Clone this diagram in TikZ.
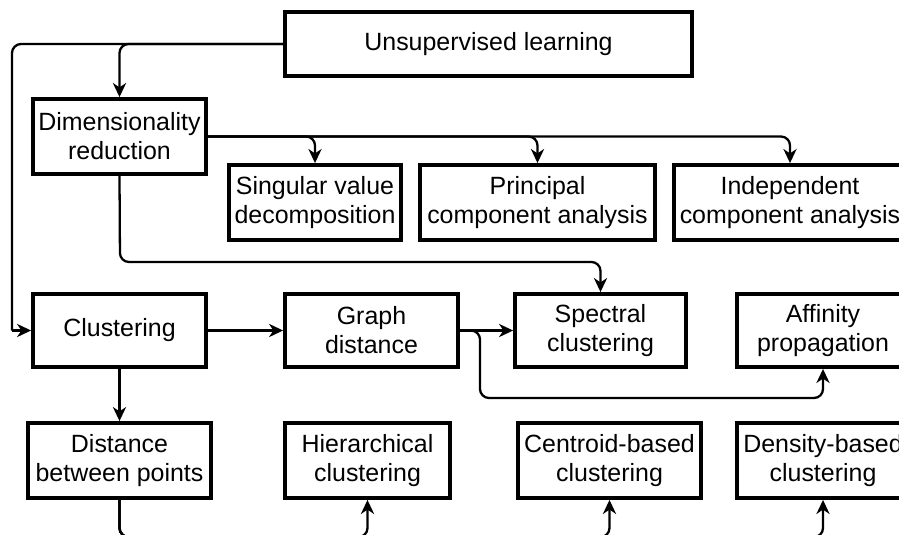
\documentclass[tikz,border=0pt]{standalone}
\usepackage{fontspec}
\setmainfont{Liberation Sans}
\usetikzlibrary{positioning,arrows.meta}

\begin{document}
\begin{tikzpicture}[x=0.02cm, y=-0.02cm,
  every node/.style={font=\fontsize{14.2}{16.5}\selectfont},
  box/.style={draw, line width=2.2pt, align=center, inner sep=0pt, minimum height=1.5cm},
  conn/.style={line width=1.3pt, rounded corners=0.18cm, -{Stealth[length=8pt, width=7.5pt, inset=2.5pt]}},
  link/.style={line width=1.3pt, rounded corners=0.18cm}]
\clip (0,0) rectangle (899,534);

% Root
\node[box, minimum width=8.14cm, minimum height=1.28cm] (UL) at (488.5,44) {Unsupervised learning};

% Dimensionality reduction branch
\node[box, minimum width=3.46cm] (DR) at (119.5,136.5) {Dimensionality\\reduction};
\node[box, minimum width=3.44cm] (SVD) at (315,202.5) {Singular value\\decomposition};
\node[box, minimum width=4.7cm] (PCA) at (537.5,202.5) {Principal\\component analysis};
\node[box, minimum width=4.64cm] (ICA) at (790,202.5) {Independent\\component analysis};

% Clustering branch
\node[box, minimum width=3.46cm, minimum height=1.46cm] (CL) at (119.5,330.5) {Clustering};
\node[box, minimum width=3.46cm, minimum height=1.46cm] (GD) at (371.5,330.5) {Graph\\distance};
\node[box, minimum width=3.42cm, minimum height=1.46cm] (SC) at (600.5,330.5) {Spectral\\clustering};
\node[box, minimum width=3.44cm, minimum height=1.46cm] (AP) at (823,330.5) {Affinity\\propagation};

% Distance between points
\node[box, minimum width=3.66cm] (DBP) at (119.5,460.5) {Distance\\between points};
\node[box, minimum width=3.3cm] (HC) at (367.5,460.5) {Hierarchical\\clustering};
\node[box, minimum width=3.66cm] (CB) at (609.5,460.5) {Centroid-based\\clustering};
\node[box, minimum width=3.44cm] (DB) at (823,460.5) {Density-based\\clustering};

% Helper points
\coordinate (edgeL) at (12,330.5);
\coordinate (drLow) at (120,262);
\coordinate (gdLoop) at (480,398);
\coordinate (base) at (0,537);

% Arrows
\draw[conn] (UL.west) -| (DR.north);
\draw[link] (UL.west) -| (edgeL);
\draw[conn] (edgeL) -- (CL.west);
\draw[conn] (DR.east) -| (SVD.north);
\draw[conn] (DR.east) -| (PCA.north);
\draw[conn] (DR.east) -| (ICA.north);
\draw[conn] (DR.south) -- (drLow) -| (SC.north);
\draw[conn] (CL.east) -- (GD.west);
\draw[conn] (GD.east) -- (SC.west);
\draw[conn] (GD.east) -| (gdLoop) -| (AP.south);
\draw[conn] (CL.south) -- (DBP.north);
\draw[conn] (DBP.south) |- (base -| HC.south) -- (HC.south);
\draw[conn] (DBP.south) |- (base -| CB.south) -- (CB.south);
\draw[conn] (DBP.south) |- (base -| DB.south) -- (DB.south);
\end{tikzpicture}
\end{document}
